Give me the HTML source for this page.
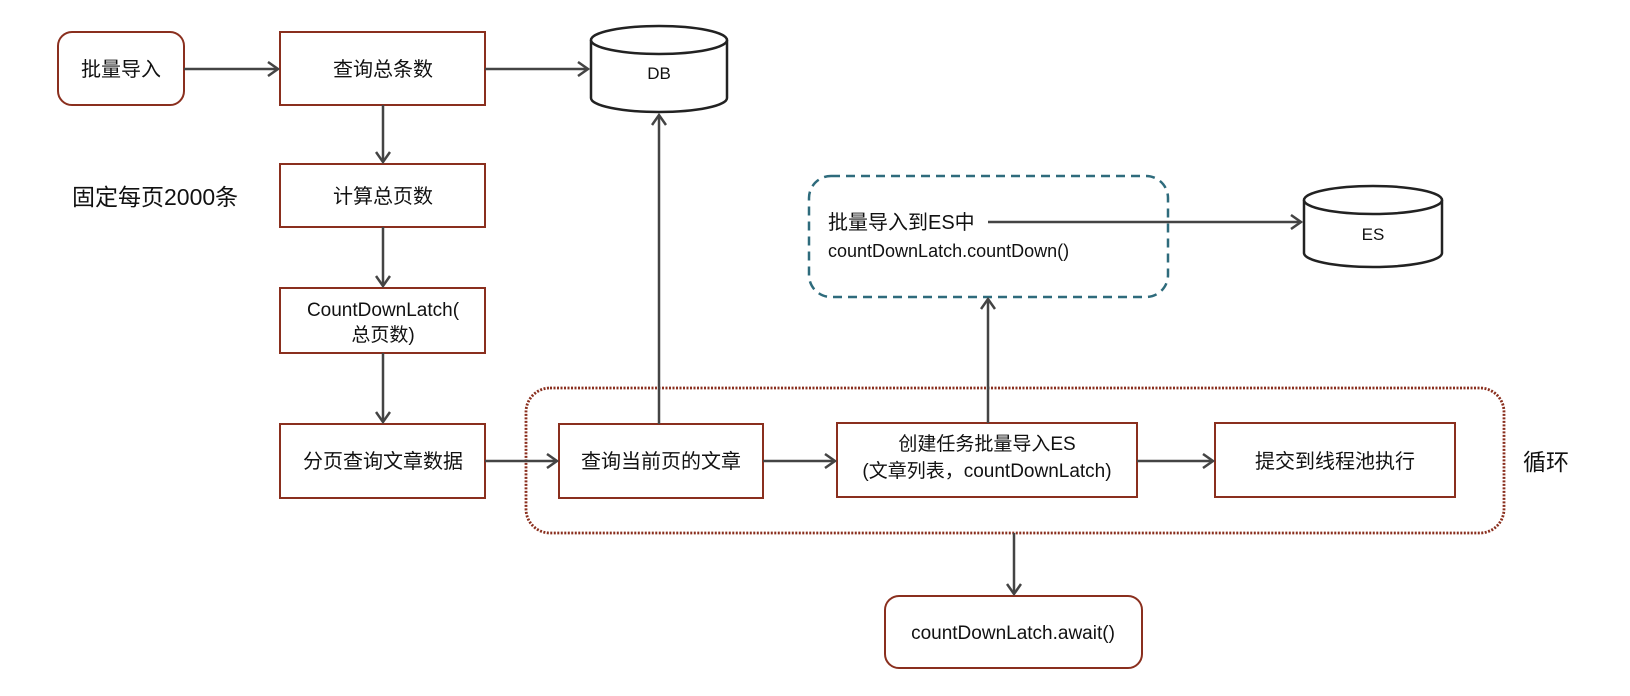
<!DOCTYPE html>
<html><head><meta charset="utf-8"><style>
body{margin:0;background:#fff;}
svg{display:block}
text{font-family:"Liberation Sans","Noto Sans CJK SC",sans-serif;fill:#111;}
</style></head><body>
<svg width="1630" height="696" viewBox="0 0 1630 696" xmlns="http://www.w3.org/2000/svg">
<defs>
<marker id="a" markerWidth="16" markerHeight="16" refX="12" refY="8" orient="auto" markerUnits="userSpaceOnUse">
<path d="M2,1 L12,8 L2,15" fill="none" stroke="#444" stroke-width="2.5"/>
</marker>
</defs>
<g fill="#fff" stroke="#8a2f1e" stroke-width="2">
<rect x="58" y="32" width="126" height="73" rx="14"/>
<rect x="280" y="32" width="205" height="73"/>
<rect x="280" y="164" width="205" height="63"/>
<rect x="280" y="288" width="205" height="65"/>
<rect x="280" y="424" width="205" height="74"/>
<rect x="559" y="424" width="204" height="74"/>
<rect x="837" y="423" width="300" height="74"/>
<rect x="1215" y="423" width="240" height="74"/>
<rect x="885" y="596" width="257" height="72" rx="14"/>
</g>
<rect x="526" y="388" width="978" height="145" rx="24" fill="none" stroke="#8a2f1e" stroke-width="2.8" stroke-dasharray="2 1.5"/>
<rect x="809" y="176" width="359" height="121" rx="22" fill="none" stroke="#2e6b7c" stroke-width="2.5" stroke-dasharray="9 6"/>
<g fill="#fff" stroke="#222" stroke-width="2.5">
<path d="M591,40 V98 A68,14 0 0 0 727,98 V40"/>
<ellipse cx="659" cy="40" rx="68" ry="14"/>
<path d="M1304,200 V253 A69,14 0 0 0 1442,253 V200"/>
<ellipse cx="1373" cy="200" rx="69" ry="14"/>
</g>
<g stroke="#444" stroke-width="2.5" fill="none" marker-end="url(#a)">
<line x1="184" y1="69" x2="278" y2="69"/>
<line x1="485" y1="69" x2="588" y2="69"/>
<line x1="383" y1="105" x2="383" y2="162"/>
<line x1="383" y1="227" x2="383" y2="286"/>
<line x1="383" y1="353" x2="383" y2="422"/>
<line x1="485" y1="461" x2="557" y2="461"/>
<line x1="659" y1="424" x2="659" y2="115"/>
<line x1="763" y1="461" x2="835" y2="461"/>
<line x1="1137" y1="461" x2="1213" y2="461"/>
<line x1="988" y1="423" x2="988" y2="299"/>
<line x1="988" y1="222" x2="1301" y2="222"/>
<line x1="1014" y1="533" x2="1014" y2="594"/>
</g>
<g font-size="20" text-anchor="middle">
<text x="121" y="76">批量导入</text>
<text x="383" y="76">查询总条数</text>
<text x="383" y="203">计算总页数</text>
<text x="383" y="316" font-size="19">CountDownLatch(</text>
<text x="383" y="341" font-size="19">总页数)</text>
<text x="383" y="468">分页查询文章数据</text>
<text x="661" y="468">查询当前页的文章</text>
<text x="987" y="450" font-size="19">创建任务批量导入ES</text>
<text x="987" y="477" font-size="19">(文章列表，countDownLatch)</text>
<text x="1335" y="468">提交到线程池执行</text>
<text x="1013" y="639" font-size="19">countDownLatch.await()</text>
<text x="659" y="79" font-size="17">DB</text>
<text x="1373" y="240" font-size="17">ES</text>
</g>
<text x="72" y="205" font-size="23">固定每页2000条</text>
<text x="1523" y="470" font-size="23">循环</text>
<text x="828" y="229" font-size="20">批量导入到ES中</text>
<text x="828" y="257" font-size="18">countDownLatch.countDown()</text>
</svg>
</body></html>
